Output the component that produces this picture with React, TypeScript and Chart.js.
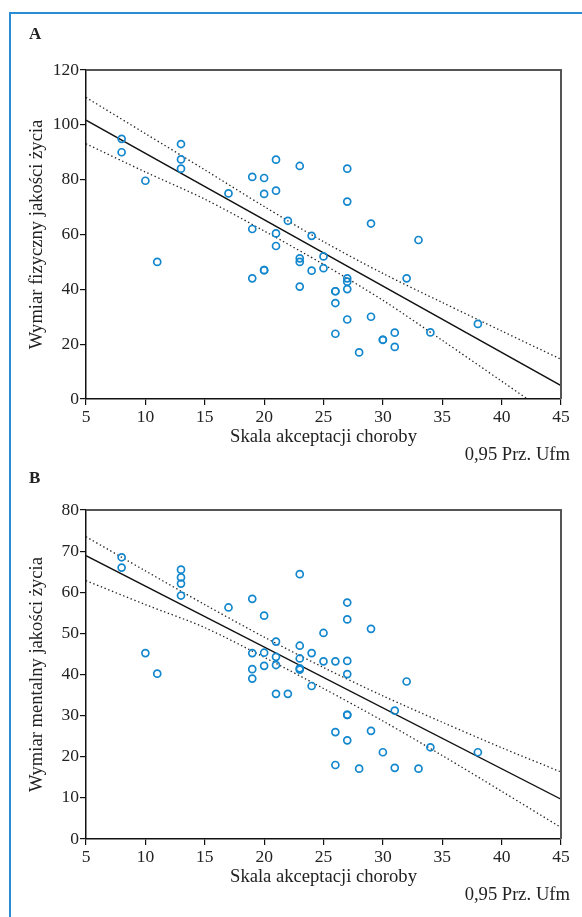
import React, { useEffect, useRef } from 'react';
import { Chart, registerables } from 'chart.js';
Chart.register(...registerables);

// ---- Panel A: Wymiar fizyczny ----
const aX = [8, 8, 10, 11, 13, 13, 13, 17, 19, 19, 19, 20, 20, 20, 20, 21, 21, 21, 21, 22, 23, 23, 23, 23, 24, 24, 25, 25, 26, 26, 26, 26, 27, 27, 27, 27, 27, 27, 28, 29, 29, 30, 30, 31, 31, 32, 33, 34, 38];
const aY = [94.9, 90, 79.6, 50, 93, 87.4, 84, 75, 81, 62, 44, 80.6, 74.8, 47, 47, 87.3, 76, 60.4, 55.8, 65, 85, 51.3, 50, 41, 59.5, 46.8, 52, 47.7, 39.3, 39.3, 35, 23.8, 84, 72, 44, 42.8, 40.1, 29, 17, 64, 30, 21.6, 21.6, 24.2, 19, 44, 58, 24.3, 27.4];

// ---- Panel B: Wymiar mentalny ----
const bX = [8, 8, 10, 11, 13, 13, 13, 13, 17, 19, 19, 19, 19, 20, 20, 20, 21, 21, 21, 21, 22, 23, 23, 23, 23, 23, 24, 24, 25, 25, 26, 26, 26, 27, 27, 27, 27, 27, 27, 27, 28, 29, 29, 30, 31, 31, 32, 33, 34, 38];
const bY = [68.5, 66.0, 45.2, 40.2, 65.5, 63.6, 62.1, 59.2, 56.3, 58.4, 45.2, 41.3, 39.0, 54.3, 45.3, 42.1, 48.0, 44.3, 42.3, 35.3, 35.3, 64.4, 47.0, 43.9, 41.5, 41.2, 45.2, 37.2, 50.1, 43.2, 43.2, 26.0, 18.0, 57.5, 53.4, 43.3, 40.1, 30.2, 30.2, 24.0, 17.1, 51.1, 26.3, 21.1, 31.2, 17.3, 38.3, 17.1, 22.3, 21.1];

// regression lines (read at x = 5 and x = 45)
const fitX = [5, 45];
const aFit = [101.7, 4.9];
const bFit = [68.9, 9.7];

// 0.95 confidence band
const ciX = [5, 10, 15, 20, 25, 30, 35, 40, 45];
const aUpper = [110.0, 96.8, 83.6, 70.2, 57.4, 45.8, 35.2, 24.8, 14.5];
const aLower = [93.1, 82.8, 72.9, 61.3, 49.1, 36.0, 21.4, 6.5, -8.5];
const bUpper = [73.5, 65.2, 57.0, 49.1, 41.7, 34.8, 28.4, 22.2, 16.3];
const bLower = [62.8, 57.0, 51.4, 44.2, 36.6, 28.7, 20.3, 11.6, 2.8];

const xTitle = 'Skala akceptacji choroby';
const aYTitle = 'Wymiar fizyczny jakości życia';
const bYTitle = 'Wymiar mentalny jakości życia';
const noteText = '0,95 Prz. Ufm';

const SERIF = '"Liberation Serif", "Times New Roman", serif';
const BLUE = '#1287cd';
const TITLE_SIZE = 18.6;
const TICK_SIZE = 17.5;

const pts = (xs: number[], ys: number[]) => xs.map((x, i) => ({ x, y: ys[i] }));

const framePlugin = {
  id: 'frame',
  afterDatasetsDraw(chart: any) {
    const { ctx, chartArea: a } = chart;
    ctx.save();
    ctx.strokeStyle = '#555';
    ctx.lineWidth = 2;
    ctx.beginPath();
    ctx.moveTo(a.left, a.top);
    ctx.lineTo(a.right, a.top);
    ctx.lineTo(a.right, a.bottom);
    ctx.stroke();
    ctx.restore();
  },
};

function makeConfig(o: {
  xs: number[]; ys: number[]; fit: number[]; up: number[]; lo: number[];
  yMax: number; yStep: number; yTitle: string; padTop: number; xAxisH: number; xTitlePadB: number;
}) {
  const dotted = (d: number[]) => ({
    type: 'line' as const,
    data: pts(ciX, d),
    showLine: true,
    borderColor: '#222',
    borderWidth: 1.3,
    borderDash: [1.4, 2.6],
    pointRadius: 0,
    tension: 0.3,
    fill: false,
  });
  return {
    type: 'scatter' as const,
    data: {
      datasets: [
        {
          data: pts(o.xs, o.ys),
          pointRadius: 3.5,
          pointBorderWidth: 1.7,
          pointBorderColor: BLUE,
          pointBackgroundColor: 'rgba(255,255,255,0)',
          borderColor: BLUE,
          backgroundColor: 'rgba(255,255,255,0)',
        },
        {
          type: 'line' as const,
          data: pts(fitX, o.fit),
          showLine: true,
          borderColor: '#111',
          borderWidth: 1.3,
          pointRadius: 0,
          fill: false,
        },
        dotted(o.up),
        dotted(o.lo),
      ],
    },
    options: {
      animation: false as const,
      responsive: false,
      events: [],
      layout: { padding: { top: o.padTop, right: 21, left: 0, bottom: 0 } },
      plugins: { legend: { display: false }, tooltip: { enabled: false } },
      scales: {
        x: {
          type: 'linear' as const,
          min: 5,
          max: 45,
          afterFit: (s: any) => { s.height = o.xAxisH; },
          ticks: { stepSize: 5, color: '#222', padding: 2, font: { family: SERIF, size: TICK_SIZE } },
          grid: { display: true, drawOnChartArea: false, drawTicks: true, tickLength: 6, color: '#111', lineWidth: 1.2 },
          border: { display: true, color: '#111', width: 1.5 },
          title: { display: true, text: xTitle, color: '#222', font: { family: SERIF, size: TITLE_SIZE }, padding: { top: 0, bottom: o.xTitlePadB } },
        },
        y: {
          type: 'linear' as const,
          min: 0,
          max: o.yMax,
          afterFit: (s: any) => { s.width = 86; },
          ticks: { stepSize: o.yStep, color: '#222', padding: 1, font: { family: SERIF, size: TICK_SIZE } },
          grid: { display: true, drawOnChartArea: false, drawTicks: true, tickLength: 6, color: '#111', lineWidth: 1.2 },
          border: { display: true, color: '#111', width: 1.5 },
          title: { display: true, text: o.yTitle, color: '#222', font: { family: SERIF, size: TITLE_SIZE }, padding: { top: 26, bottom: 0 } },
        },
      },
    },
    plugins: [framePlugin],
  };
}

function Panel(props: { cfg: any; top: number; height: number }) {
  const ref = useRef<HTMLCanvasElement | null>(null);
  useEffect(() => {
    if (!ref.current) return;
    const chart = new Chart(ref.current, props.cfg);
    return () => chart.destroy();
  }, []);
  return (
    <canvas
      ref={ref}
      width={582}
      height={props.height}
      style={{ position: 'absolute', left: 0, top: props.top, width: 582, height: props.height }}
    />
  );
}

export default function App() {
  const cfgA = makeConfig({ xs: aX, ys: aY, fit: aFit, up: aUpper, lo: aLower, yMax: 120, yStep: 20, yTitle: aYTitle, padTop: 70, xAxisH: 71, xTitlePadB: 22 });
  const cfgB = makeConfig({ xs: bX, ys: bY, fit: bFit, up: bUpper, lo: bLower, yMax: 80, yStep: 10, yTitle: bYTitle, padTop: 40, xAxisH: 78, xTitlePadB: 29 });
  const label: React.CSSProperties = { position: 'absolute', fontFamily: SERIF, fontSize: TITLE_SIZE, color: '#222', lineHeight: '20px', whiteSpace: 'nowrap' };
  return (
    <div style={{ position: 'absolute', left: 0, top: 0, width: 582, height: 917, background: '#fff', overflow: 'hidden' }}>
      <Panel cfg={cfgA} top={0} height={470} />
      <Panel cfg={cfgB} top={470} height={447} />
      <div style={{ position: 'absolute', left: 9, top: 12, width: 2, height: 905, background: '#2a8dd4' }} />
      <div style={{ position: 'absolute', left: 9, top: 12, width: 573, height: 2, background: '#2a8dd4' }} />
      <div style={{ ...label, fontSize: 17, left: 29, top: 24, fontWeight: 'bold' }}>A</div>
      <div style={{ ...label, right: 12, top: 444 }}>{noteText}</div>
      <div style={{ ...label, fontSize: 17, left: 29, top: 468, fontWeight: 'bold' }}>B</div>
      <div style={{ ...label, right: 12, top: 884 }}>{noteText}</div>
    </div>
  );
}
